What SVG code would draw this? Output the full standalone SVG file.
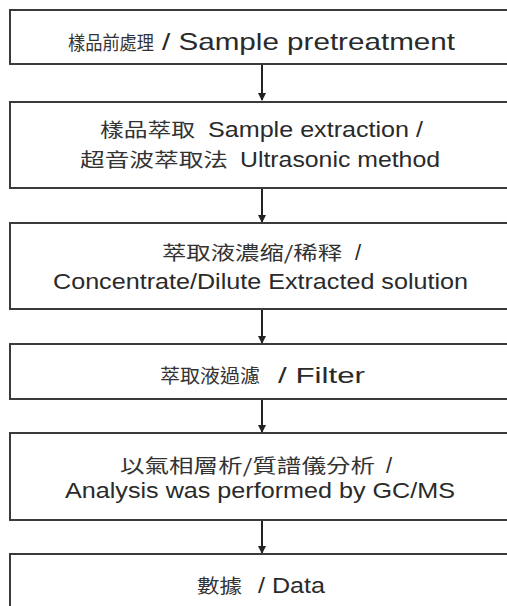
<svg xmlns="http://www.w3.org/2000/svg" width="507" height="606" viewBox="0 0 507 606">
<style>
.box{fill:#fff;stroke:#3a3a3a;stroke-width:2}
.t{font-family:"Liberation Sans",Arial,sans-serif;font-size:22px;fill:#2a2a2a}
.c{font-family:"Noto Sans CJK TC","Noto Sans CJK SC",sans-serif;font-size:19px;fill:#333}
.conn{stroke:#222;stroke-width:2;fill:none}
</style>
<defs>
<marker id="ah" markerWidth="8" markerHeight="8" refX="7" refY="4" orient="auto" markerUnits="userSpaceOnUse">
<path d="M0,0 L8,4 L0,8 Z" fill="#222"/>
</marker>
</defs>
<rect width="507" height="606" fill="#fff"/>
<g id="connectors">
<line class="conn" x1="262" y1="65" x2="262" y2="100" marker-end="url(#ah)"/>
<line class="conn" x1="262" y1="189" x2="262" y2="222" marker-end="url(#ah)"/>
<line class="conn" x1="262" y1="310" x2="262" y2="343" marker-end="url(#ah)"/>
<line class="conn" x1="262" y1="400" x2="262" y2="432" marker-end="url(#ah)"/>
<line class="conn" x1="262" y1="521" x2="262" y2="553" marker-end="url(#ah)"/>
</g>
<g id="n1">
<rect class="box" x="10" y="10" width="520" height="54"/>
<text class="c" x="68" y="50" textLength="86" lengthAdjust="spacingAndGlyphs" style="font-size:19px">樣品前處理</text>
<text class="t" x="162" y="50" textLength="293" lengthAdjust="spacingAndGlyphs" style="font-size:24px">/ Sample pretreatment</text>
</g>
<g id="n2">
<rect class="box" x="10" y="102" width="520" height="86"/>
<text class="c" x="100" y="137" textLength="95" lengthAdjust="spacingAndGlyphs">樣品萃取</text>
<text class="t" x="208" y="137" textLength="215" lengthAdjust="spacingAndGlyphs">Sample extraction /</text>
<text class="c" x="80" y="167" textLength="148" lengthAdjust="spacingAndGlyphs">超音波萃取法</text>
<text class="t" x="240" y="167" textLength="200" lengthAdjust="spacingAndGlyphs">Ultrasonic method</text>
</g>
<g id="n3">
<rect class="box" x="10" y="223" width="520" height="86"/>
<text class="c" x="162" y="260" textLength="180" lengthAdjust="spacingAndGlyphs">萃取液濃缩/稀释</text>
<text class="t" x="355" y="260">/</text>
<text class="t" x="53" y="289" textLength="415" lengthAdjust="spacingAndGlyphs">Concentrate/Dilute Extracted solution</text>
</g>
<g id="n4">
<rect class="box" x="10" y="344" width="520" height="55"/>
<text class="c" x="160" y="383" textLength="100" lengthAdjust="spacingAndGlyphs">萃取液過濾</text>
<text class="t" x="278" y="383" textLength="87" lengthAdjust="spacingAndGlyphs">/ Filter</text>
</g>
<g id="n5">
<rect class="box" x="10" y="433" width="520" height="87"/>
<text class="c" x="120" y="473" textLength="255" lengthAdjust="spacingAndGlyphs">以氣相層析/質譜儀分析</text>
<text class="t" x="386" y="473">/</text>
<text class="t" x="65" y="498" textLength="390" lengthAdjust="spacingAndGlyphs">Analysis was performed by GC/MS</text>
</g>
<g id="n6">
<rect class="box" x="10" y="554" width="520" height="70"/>
<text class="c" x="197" y="593" textLength="45" lengthAdjust="spacingAndGlyphs">數據</text>
<text class="t" x="258" y="593" textLength="67" lengthAdjust="spacingAndGlyphs">/ Data</text>
</g>
</svg>
